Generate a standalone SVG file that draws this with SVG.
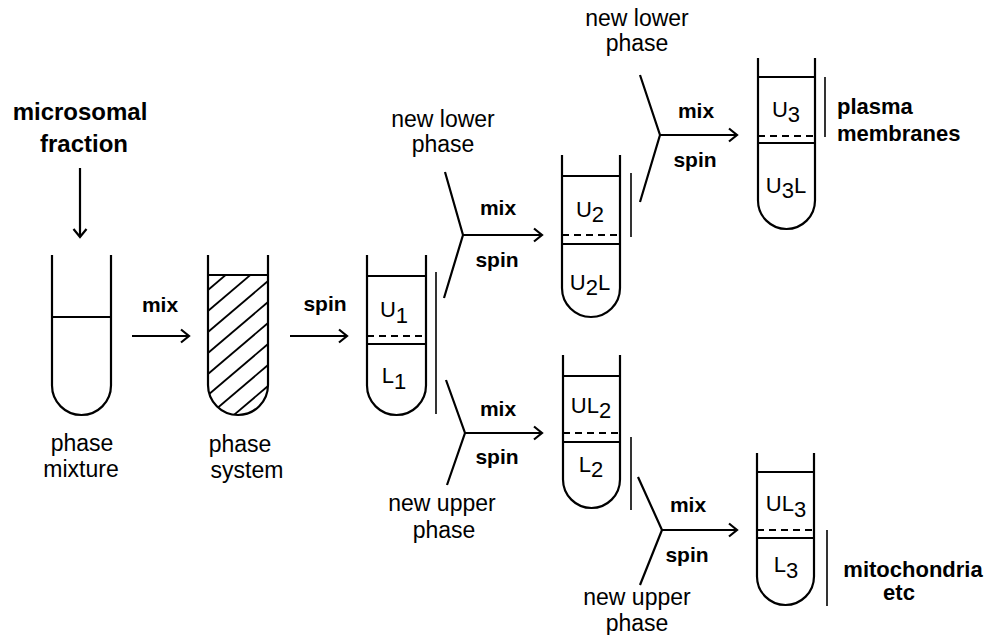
<svg xmlns="http://www.w3.org/2000/svg" width="987" height="635" viewBox="0 0 987 635">
<style>
  .tube{fill:none;stroke:#000;stroke-width:2.2;stroke-linejoin:round}
  .ln{stroke:#000;stroke-width:2.2;fill:none}
  .dash{stroke:#000;stroke-width:2.2;stroke-dasharray:7 5}
  .br{stroke:#000;stroke-width:1.6}
  .hatch{stroke:#000;stroke-width:1.8}
  text{font-family:"Liberation Sans",Arial,sans-serif;fill:#000}
  .lab{font-size:23px;text-anchor:middle}
  .in{font-size:22px;text-anchor:middle}
  .b{font-size:21px;font-weight:bold;text-anchor:middle}
  .bl{font-size:22px;font-weight:bold}
  .con{stroke:#000;stroke-width:2.2;fill:none}
</style>
<defs>
  <marker id="ah" viewBox="-11 -8 13 16" refX="0" refY="0" markerWidth="13" markerHeight="16" markerUnits="userSpaceOnUse" orient="auto">
    <path d="M-8,-6.5 L0,0 L-8,6.5" fill="none" stroke="#000" stroke-width="2.2"/>
  </marker>
  <clipPath id="fillclip">
    <path d="M208,275 H268 V385 A30,30 0 0 1 208,385 Z"/>
  </clipPath>
</defs>

<g id="connectors">
  <line class="con" x1="80" y1="168" x2="80" y2="237" marker-end="url(#ah)"/>
  <line class="con" x1="132" y1="336" x2="189" y2="336" marker-end="url(#ah)"/>
  <line class="con" x1="290" y1="336" x2="347" y2="336" marker-end="url(#ah)"/>
  <polyline class="con" points="445,172 463,235 444,298"/>
  <line class="con" x1="463" y1="235" x2="542" y2="235" marker-end="url(#ah)"/>
  <polyline class="con" points="446,380 465,433 447,485"/>
  <line class="con" x1="465" y1="433" x2="542" y2="433" marker-end="url(#ah)"/>
  <polyline class="con" points="640,75 660,135 640,202"/>
  <line class="con" x1="660" y1="135" x2="737" y2="135" marker-end="url(#ah)"/>
  <polyline class="con" points="638,477 662,530 640,585"/>
  <line class="con" x1="662" y1="530" x2="737" y2="530" marker-end="url(#ah)"/>
</g>

<g id="labels-connectors">
  <text class="b" x="160" y="312">mix</text>
  <text class="b" x="325" y="311">spin</text>
  <text class="b" x="498" y="215">mix</text>
  <text class="b" x="497" y="267">spin</text>
  <text class="b" x="498" y="416">mix</text>
  <text class="b" x="497" y="464">spin</text>
  <text class="b" x="696" y="118">mix</text>
  <text class="b" x="695" y="167">spin</text>
  <text class="b" x="688" y="512">mix</text>
  <text class="b" x="687" y="562">spin</text>
</g>

<g id="input">
  <text x="80" y="120" style="font-size:24px;font-weight:bold;text-anchor:middle">microsomal</text>
  <text x="84" y="152" style="font-size:24px;font-weight:bold;text-anchor:middle">fraction</text>
</g>

<g id="tube-mixture">
  <path class="tube" d="M52,255 V385.5 A29.5,29.5 0 0 0 111,385.5 V255"/>
  <line class="ln" x1="52" y1="317" x2="111" y2="317"/>
  <text class="lab" x="82" y="451">phase</text>
  <text class="lab" x="81" y="477">mixture</text>
</g>

<g id="tube-system">
  <g clip-path="url(#fillclip)">
    <line class="hatch" x1="208" y1="290" x2="268" y2="239"/>
    <line class="hatch" x1="208" y1="311" x2="268" y2="260"/>
    <line class="hatch" x1="208" y1="332" x2="268" y2="281"/>
    <line class="hatch" x1="208" y1="353" x2="268" y2="302"/>
    <line class="hatch" x1="208" y1="374" x2="268" y2="323"/>
    <line class="hatch" x1="208" y1="395" x2="268" y2="344"/>
    <line class="hatch" x1="208" y1="416" x2="268" y2="365"/>
    <line class="hatch" x1="208" y1="437" x2="268" y2="386"/>
    <line class="hatch" x1="208" y1="458" x2="268" y2="407"/>
  </g>
  <path class="tube" d="M208,255 V385 A30,30 0 0 0 268,385 V255"/>
  <line class="ln" x1="208" y1="275" x2="268" y2="275"/>
  <text class="lab" x="240" y="452">phase</text>
  <text class="lab" x="247" y="478">system</text>
</g>

<g id="tube-1">
  <path class="tube" d="M367,255 V385.5 A29.5,29.5 0 0 0 426,385.5 V255"/>
  <line class="ln" x1="367" y1="276" x2="426" y2="276"/>
  <line class="dash" x1="367" y1="336" x2="426" y2="336"/>
  <line class="ln" x1="367" y1="344" x2="426" y2="344"/>
  <line class="br" x1="436" y1="272" x2="436" y2="414"/>
  <text class="in" x="394" y="317">U<tspan dy="6">1</tspan></text>
  <text class="in" x="394" y="383">L<tspan dy="6">1</tspan></text>
</g>

<g id="lower-phase-1">
  <text class="lab" x="443" y="127">new lower</text>
  <text class="lab" x="443" y="152">phase</text>
</g>

<g id="upper-phase-1">
  <text class="lab" x="442" y="511">new upper</text>
  <text class="lab" x="444" y="538">phase</text>
</g>

<g id="tube-2u">
  <path class="tube" d="M562,155 V288 A29,29 0 0 0 620,288 V155"/>
  <line class="ln" x1="562" y1="176" x2="620" y2="176"/>
  <line class="dash" x1="562" y1="235" x2="620" y2="235"/>
  <line class="ln" x1="562" y1="244" x2="620" y2="244"/>
  <line class="br" x1="631" y1="173" x2="631" y2="237"/>
  <text class="in" x="590" y="217">U<tspan dy="5">2</tspan></text>
  <text class="in" x="590" y="290">U<tspan dy="5">2</tspan><tspan dy="-5">L</tspan></text>
</g>

<g id="lower-phase-2">
  <text class="lab" x="637" y="26">new lower</text>
  <text class="lab" x="637" y="51">phase</text>
</g>

<g id="tube-3u">
  <path class="tube" d="M758,58 V200.5 A28.5,28.5 0 0 0 815,200.5 V58"/>
  <line class="ln" x1="758" y1="77" x2="815" y2="77"/>
  <line class="dash" x1="758" y1="136" x2="815" y2="136"/>
  <line class="ln" x1="758" y1="143" x2="815" y2="143"/>
  <line class="br" x1="825" y1="77" x2="825" y2="137"/>
  <text class="in" x="786" y="117">U<tspan dy="5">3</tspan></text>
  <text class="in" x="786" y="193">U<tspan dy="5">3</tspan><tspan dy="-5">L</tspan></text>
  <text class="bl" x="837" y="114">plasma</text>
  <text class="bl" x="837" y="141">membranes</text>
</g>

<g id="tube-2l">
  <path class="tube" d="M563,355 V479.5 A28.5,28.5 0 0 0 620,479.5 V355"/>
  <line class="ln" x1="563" y1="376" x2="620" y2="376"/>
  <line class="dash" x1="563" y1="433" x2="620" y2="433"/>
  <line class="ln" x1="563" y1="442" x2="620" y2="442"/>
  <line class="br" x1="631" y1="437" x2="631" y2="510"/>
  <text class="in" x="591" y="413">UL<tspan dy="5">2</tspan></text>
  <text class="in" x="591" y="472">L<tspan dy="5">2</tspan></text>
</g>

<g id="upper-phase-2">
  <text class="lab" x="637" y="605">new upper</text>
  <text class="lab" x="637" y="631">phase</text>
</g>

<g id="tube-3l">
  <path class="tube" d="M757,453 V576.5 A28.5,28.5 0 0 0 814,576.5 V453"/>
  <line class="ln" x1="757" y1="472" x2="814" y2="472"/>
  <line class="dash" x1="757" y1="530" x2="814" y2="530"/>
  <line class="ln" x1="757" y1="538" x2="814" y2="538"/>
  <line class="br" x1="827" y1="530" x2="827" y2="606"/>
  <text class="in" x="786" y="511">UL<tspan dy="6">3</tspan></text>
  <text class="in" x="786" y="572">L<tspan dy="6">3</tspan></text>
  <text class="bl" x="913" y="577" text-anchor="middle">mitochondria</text>
  <text class="bl" x="899" y="600" text-anchor="middle">etc</text>
</g>
</svg>
